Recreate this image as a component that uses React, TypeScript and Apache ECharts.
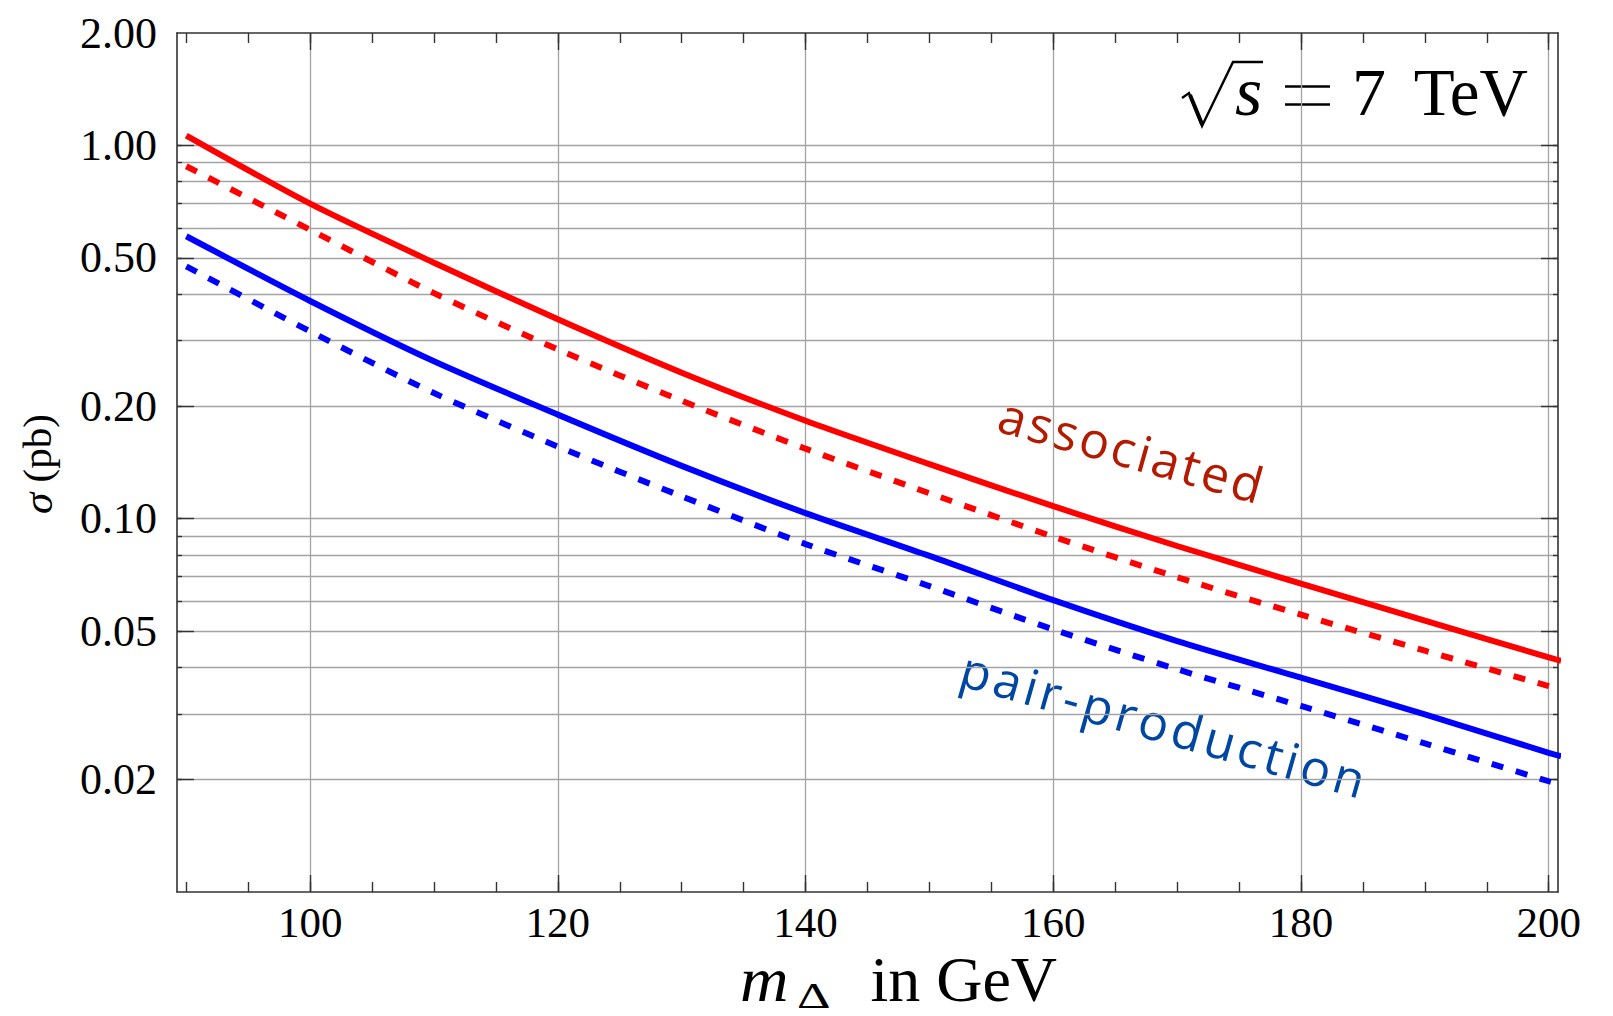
import React, { useEffect, useRef } from 'react';
import * as echarts from 'echarts';

// ---- data ----
const massGeV = [90, 100, 110, 120, 130, 140, 150, 160, 170, 180, 190, 200, 201];
const associatedSolid = [1.062, 0.698, 0.485, 0.342, 0.246, 0.183, 0.14, 0.108, 0.0845, 0.067, 0.0533, 0.0425, 0.0416];
const associatedDashed = [0.879, 0.594, 0.402, 0.284, 0.207, 0.154, 0.117, 0.0895, 0.0697, 0.0553, 0.0443, 0.0356, 0.0349];
const pairSolid = [0.571, 0.383, 0.264, 0.19, 0.1385, 0.1035, 0.0795, 0.0605, 0.047, 0.0375, 0.0299, 0.0236, 0.0231];
const pairDashed = [0.474, 0.3175, 0.217, 0.156, 0.1148, 0.0855, 0.066, 0.0505, 0.0395, 0.0315, 0.025, 0.0198, 0.0194];

const xMajorTicks = [100, 120, 140, 160, 180, 200];
const xMinorTicks = [90, 95, 100, 105, 110, 115, 120, 125, 130, 135, 140, 145, 150, 155, 160, 165, 170, 175, 180, 185, 190, 195, 200];
const yLabelTicks = [0.02, 0.05, 0.1, 0.2, 0.5, 1, 2];
const yLongTicks = [0.02, 0.05, 0.1, 0.2, 0.5, 1];
const yGridTicks = [0.02, 0.03, 0.04, 0.05, 0.06, 0.07, 0.08, 0.09, 0.1, 0.2, 0.3, 0.4, 0.5, 0.6, 0.7, 0.8, 0.9, 1];

const X_MIN = 89.25;
const X_MAX = 200.75;
const Y_MIN = 0.01;
const Y_MAX = 2;

const SERIF = '"Liberation Serif", "Times New Roman", serif';
const SANS = '"Open Sans", Lato, sans-serif';
const FRAME = '#333333';
const GRIDC = '#a3a3a3';

function pairs(ys: number[]) {
  return massGeV.map((m, i) => [m, ys[i]]);
}

function spacedText(str: string, fontSize: number, fill: string, x0: number, y0: number, angleDeg: number, totalLen: number) {
  const canvas = document.createElement('canvas');
  const ctx = canvas.getContext('2d')!;
  ctx.font = `${fontSize}px ${SANS}`;
  const chars = Array.from(str);
  const widths = chars.map((c) => ctx.measureText(c).width);
  const natural = widths.reduce((a, b) => a + b, 0);
  const spacing = (totalLen - natural) / (chars.length - 1);
  let cx = 0;
  const children = chars.map((c, i) => {
    const el = {
      type: 'text',
      x: cx,
      y: -0.38 * fontSize,
      style: { text: c, fontSize, fontFamily: SANS, fill, align: 'left', verticalAlign: 'middle' },
    };
    cx += widths[i] + spacing;
    return el;
  });
  return { type: 'group', x: x0, y: y0, rotation: (-angleDeg * Math.PI) / 180, children };
}

function baseX(extra: any) {
  return {
    type: 'value',
    min: X_MIN,
    max: X_MAX,
    axisLine: { show: false },
    axisLabel: { show: false },
    splitLine: { show: false },
    ...extra,
  };
}

function baseY(extra: any) {
  return {
    type: 'log',
    logBase: 10,
    min: Y_MIN,
    max: Y_MAX,
    axisLine: { show: false },
    axisLabel: { show: false },
    splitLine: { show: false },
    ...extra,
  };
}

export default function App() {
  const ref = useRef<HTMLDivElement>(null);

  useEffect(() => {
    if (!ref.current) return;
    const chart = echarts.init(ref.current, undefined, { renderer: 'svg' });

    const tickStyle = { color: FRAME, width: 1.4 };

    const option: any = {
      animation: false,
      backgroundColor: '#ffffff',
      grid: { left: 177, top: 33, right: 55, bottom: 124, containLabel: false },
      xAxis: [
        baseX({
          position: 'bottom',
          axisLine: { show: true, onZero: false, lineStyle: { color: FRAME, width: 1.6 } },
          axisTick: { show: true, inside: true, length: 17, customValues: xMajorTicks, lineStyle: tickStyle },
          axisLabel: {
            show: true,
            customValues: xMajorTicks,
            margin: 9,
            fontSize: 43,
            fontFamily: SERIF,
            color: '#000',
            formatter: (v: number) => String(Math.round(v)),
          },
          splitLine: { show: true, lineStyle: { color: GRIDC, width: 1.3 } },
        }),
        baseX({
          position: 'bottom',
          axisTick: { show: true, inside: true, length: 10, customValues: xMinorTicks, lineStyle: tickStyle },
        }),
        baseX({
          position: 'top',
          axisLine: { show: true, onZero: false, lineStyle: { color: FRAME, width: 1.6 } },
          axisTick: { show: true, inside: true, length: 17, customValues: xMajorTicks, lineStyle: tickStyle },
        }),
        baseX({
          position: 'top',
          axisTick: { show: true, inside: true, length: 10, customValues: xMinorTicks, lineStyle: tickStyle },
        }),
      ],
      yAxis: [
        baseY({
          position: 'left',
          axisLine: { show: true, onZero: false, lineStyle: { color: FRAME, width: 1.6 } },
          axisTick: { show: true, inside: true, length: 5, customValues: yGridTicks, lineStyle: tickStyle },
          axisLabel: {
            show: true,
            customValues: yLabelTicks,
            margin: 20,
            fontSize: 44,
            fontFamily: SERIF,
            color: '#000',
            formatter: (v: number) => Number(v).toFixed(2),
          },
          splitLine: { show: true, lineStyle: { color: GRIDC, width: 1.3 } },
        }),
        baseY({
          position: 'left',
          axisTick: { show: true, inside: true, length: 17, customValues: yLongTicks, lineStyle: tickStyle },
        }),
        baseY({
          position: 'right',
          axisLine: { show: true, onZero: false, lineStyle: { color: FRAME, width: 1.6 } },
          axisTick: { show: true, inside: true, length: 5, customValues: yGridTicks, lineStyle: tickStyle },
        }),
        baseY({
          position: 'right',
          axisTick: { show: true, inside: true, length: 17, customValues: yLongTicks, lineStyle: tickStyle },
        }),
      ],
      series: [
        {
          name: 'associated (dashed)',
          type: 'line',
          data: pairs(associatedDashed),
          showSymbol: false,
          smooth: 0.25,
          clip: true,
          lineStyle: { color: '#ff0000', width: 6, type: [12, 13], cap: 'butt' },
        },
        {
          name: 'pair-production (dashed)',
          type: 'line',
          data: pairs(pairDashed),
          showSymbol: false,
          smooth: 0.25,
          clip: true,
          lineStyle: { color: '#0000ff', width: 6, type: [12, 13], cap: 'butt' },
        },
        {
          name: 'associated',
          type: 'line',
          data: pairs(associatedSolid),
          showSymbol: false,
          smooth: 0.25,
          clip: true,
          lineStyle: { color: '#ff0000', width: 6 },
        },
        {
          name: 'pair-production',
          type: 'line',
          data: pairs(pairSolid),
          showSymbol: false,
          smooth: 0.25,
          clip: true,
          lineStyle: { color: '#0000ff', width: 6 },
        },
      ],
      graphic: [
        // sqrt(s) = 7 TeV
        {
          type: 'polyline',
          shape: { points: [[1182, 98], [1189, 93], [1202, 126], [1233, 62], [1263, 62]] },
          style: { stroke: '#000', lineWidth: 2.4, fill: 'none' },
        },
        {
          type: 'line',
          shape: { x1: 1190, y1: 95, x2: 1202, y2: 124 },
          style: { stroke: '#000', lineWidth: 4 },
        },
        {
          type: 'text',
          x: 1235,
          y: 115 - 0.34 * 70,
          style: { text: 's', fontSize: 70, fontStyle: 'italic', fontFamily: SERIF, fill: '#000', align: 'left', verticalAlign: 'middle' },
        },
        {
          type: 'line',
          shape: { x1: 1285, y1: 86.5, x2: 1330, y2: 86.5 },
          style: { stroke: '#000', lineWidth: 2.6 },
        },
        {
          type: 'line',
          shape: { x1: 1285, y1: 104.5, x2: 1330, y2: 104.5 },
          style: { stroke: '#000', lineWidth: 2.6 },
        },
        {
          type: 'text',
          x: 1369,
          y: 115 - 0.34 * 68,
          style: { text: '7', fontSize: 68, fontFamily: SERIF, fill: '#000', align: 'center', verticalAlign: 'middle' },
        },
        {
          type: 'text',
          x: 1528,
          y: 115 - 0.34 * 67,
          style: { text: 'TeV', fontSize: 67, fontFamily: SERIF, fill: '#000', align: 'right', verticalAlign: 'middle' },
        },
        // x axis title: m_Δ in GeV
        {
          type: 'text',
          x: 740,
          y: 1001 - 0.34 * 64,
          scaleX: 1.05,
          style: { text: 'm', fontSize: 64, fontStyle: 'italic', fontFamily: SERIF, fill: '#000', align: 'left', verticalAlign: 'middle' },
        },
        {
          type: 'text',
          x: 797,
          y: 1008 - 0.34 * 36,
          scaleX: 1.45,
          style: { text: 'Δ', fontSize: 36, fontFamily: SERIF, fill: '#000', align: 'left', verticalAlign: 'middle' },
        },
        {
          type: 'text',
          x: 1057,
          y: 1001 - 0.34 * 64,
          style: { text: 'in GeV', fontSize: 64, fontFamily: SERIF, fill: '#000', align: 'right', verticalAlign: 'middle' },
        },
        // y axis title: σ (pb)
        {
          type: 'text',
          x: 37,
          y: 464,
          rotation: Math.PI / 2,
          style: {
            text: '{i|σ} (pb)',
            fontSize: 41,
            fontFamily: SERIF,
            fill: '#000',
            align: 'center',
            verticalAlign: 'middle',
            rich: { i: { fontSize: 43, fontStyle: 'italic', fontFamily: SERIF, fill: '#000' } },
          },
        },
        spacedText('associated', 50, '#b31a00', 995, 431, 15.6, 272),
        spacedText('pair-production', 50, '#0047a3', 957, 685, 15.8, 418),
      ],
    };

    chart.setOption(option);
    return () => chart.dispose();
  }, []);

  return (
    <div
      ref={ref}
      style={{ position: 'absolute', left: 0, top: 0, width: 1613, height: 1016, background: '#fff' }}
    />
  );
}
